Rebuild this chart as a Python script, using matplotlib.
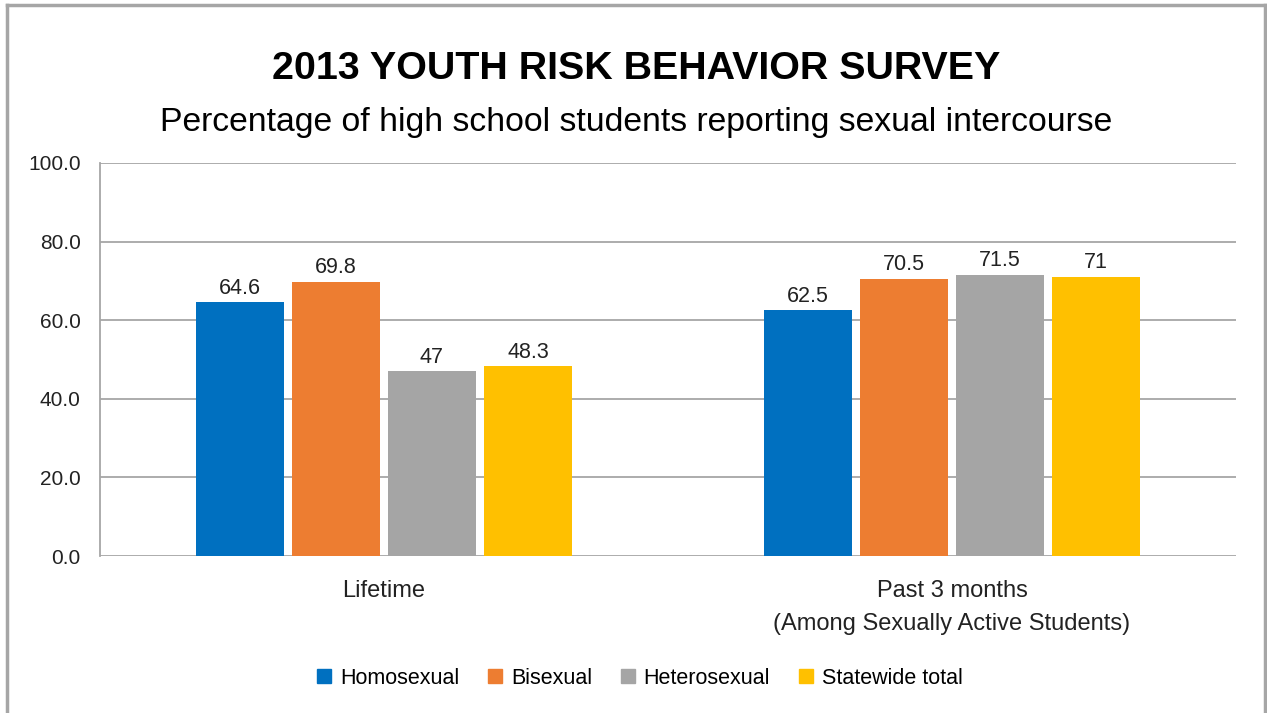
import matplotlib
matplotlib.use("Agg")
import matplotlib.pyplot as plt
import numpy as np
from matplotlib.patches import Rectangle
from matplotlib.lines import Line2D

categories = ["Lifetime", "Past 3 months\n(Among Sexually Active Students)"]
series_names = ["Homosexual", "Bisexual", "Heterosexual", "Statewide total"]
homosexual = [64.6, 62.5]
bisexual = [69.8, 70.5]
heterosexual = [47, 71.5]
statewide = [48.3, 71]
value_labels = [["64.6", "62.5"], ["69.8", "70.5"], ["47", "71.5"], ["48.3", "71"]]
yticks = [0, 20, 40, 60, 80, 100]

colors = ["#0070C0", "#ED7D31", "#A5A5A5", "#FFC000"]
FONT = "Liberation Sans"
plt.rcParams["font.family"] = [FONT, "DejaVu Sans"]

fig = plt.figure(figsize=(12.67, 7.13), dpi=100)
ax = fig.add_axes([100/1267, 1-556/713, 1136/1267, 393/713])

series = [homosexual, bisexual, heterosexual, statewide]
x = np.arange(len(categories))
bw = 88/568
step = 96/568
for i, (vals, c) in enumerate(zip(series, colors)):
    pos = x + (i - 1.5) * step
    bars = ax.bar(pos, vals, width=bw, color=c, zorder=3, label=series_names[i])
    for b, lab in zip(bars, value_labels[i]):
        ax.text(b.get_x() + b.get_width()/2, b.get_height() + 0.9, lab,
                ha="center", va="bottom", fontsize=15.5, color="#222222")

ax.set_xlim(-0.5, 1.5)
ax.set_ylim(0, 100)
ax.set_yticks(yticks)
ax.set_yticklabels([f"{v:.1f}" for v in yticks], fontsize=15, color="#222222")
ax.set_xticks(x)
ax.set_xticklabels(categories, fontsize=17, color="#222222", linespacing=1.65)
ax.tick_params(axis="y", length=0, pad=14)
ax.tick_params(axis="x", length=0, pad=17)
ax.yaxis.grid(True, color="#A6A6A6", linewidth=1.3, zorder=0)
for s in ["top", "right", "bottom"]:
    ax.spines[s].set_visible(False)
ax.spines["left"].set_color("#A6A6A6")
ax.spines["left"].set_linewidth(1.3)

fig.text(636/1267, 1-69/713, "2013 YOUTH RISK BEHAVIOR SURVEY", ha="center", va="center",
         fontsize=28.4, fontweight="bold", color="#000000")
fig.text(636/1267, 1-122/713, "Percentage of high school students reporting sexual intercourse",
         ha="center", va="center", fontsize=24.3, color="#000000")

handles = [Rectangle((0, 0), 1, 1, color=c) for c in colors]
fig.legend(handles, series_names, loc="center", bbox_to_anchor=(640/1267, 1-678/713),
           ncol=4, frameon=False, fontsize=15.5, handlelength=0.65, handleheight=0.65,
           columnspacing=1.35, handletextpad=0.4)

# frame
fig.add_artist(Line2D([7/1267, 7/1267], [0, 1-5/713], color="#A6A6A6", lw=2.5, transform=fig.transFigure))
fig.add_artist(Line2D([1265/1267, 1265/1267], [0, 1-5/713], color="#A6A6A6", lw=2.5, transform=fig.transFigure))
fig.add_artist(Line2D([7/1267, 1265/1267], [1-5/713, 1-5/713], color="#A6A6A6", lw=2.5, transform=fig.transFigure))

fig.savefig("out.png", dpi=100)
